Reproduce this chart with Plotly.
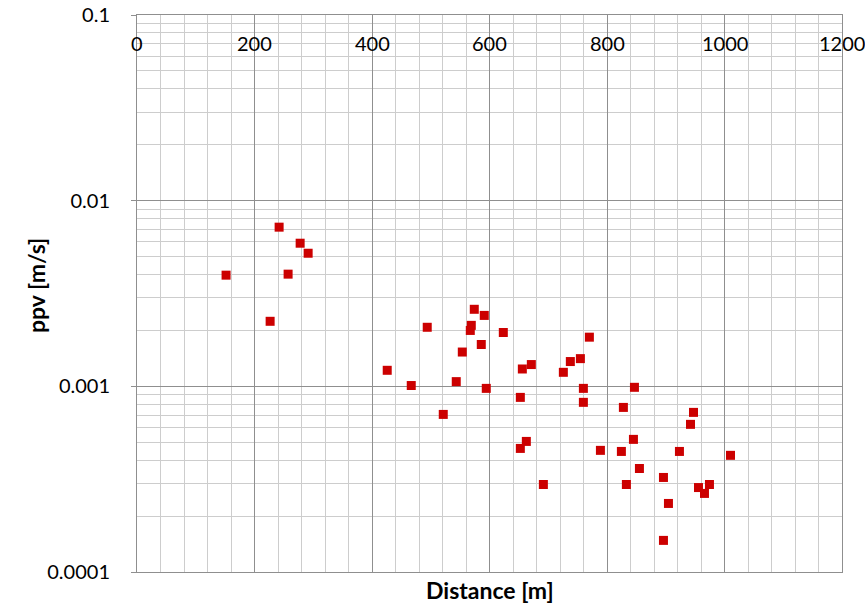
import plotly.graph_objects as go

distance_m = [151.6, 226.6, 241.9, 257.2, 277.7, 291.3, 425.9, 466.8, 494.0, 521.3,
              543.4, 553.7, 567.3, 569.0, 574.1, 586.0, 591.1, 594.5, 623.5, 652.5,
              652.5, 655.9, 662.7, 671.2, 691.7, 725.7, 737.6, 754.7, 759.8, 759.8,
              770.0, 788.8, 824.5, 827.9, 833.0, 845.0, 846.7, 855.2, 896.1, 896.1,
              904.6, 923.3, 942.1, 947.2, 955.7, 965.9, 974.4, 1010.2]
ppv_ms = [0.00397, 0.00224, 0.00720, 0.00402, 0.00590, 0.00521, 0.00122, 0.00101, 0.00208, 0.000706,
          0.00106, 0.00153, 0.00200, 0.00213, 0.00260, 0.00168, 0.00241, 0.000975, 0.00195, 0.000872,
          0.000463, 0.00124, 0.000505, 0.00131, 0.000296, 0.00119, 0.00136, 0.00141, 0.000975, 0.00082,
          0.00184, 0.000452, 0.000446, 0.00077, 0.000296, 0.000518, 0.000988, 0.000361, 0.000323, 0.000148,
          0.000234, 0.000446, 0.000624, 0.000724, 0.000285, 0.000265, 0.000296, 0.000425]

x_ticks = [0, 200, 400, 600, 800, 1000, 1200]
y_major = [0.0001, 0.001, 0.01, 0.1]
y_major_text = ["0.0001", "0.001", "0.01", "0.1"]
y_minor = [m * d for d in [0.0001, 0.001, 0.01] for m in range(2, 10)]

FONT = "Lato, 'Open Sans', sans-serif"
MAJOR = "#8f8f8f"
MINOR = "#cdcdcd"

W, H = 865, 605
L, R, T, B = 137, 842, 15, 572

fig = go.Figure()
fig.add_trace(go.Scatter(
    x=distance_m, y=ppv_ms, mode="markers",
    marker=dict(symbol="square", size=9, color="#CC0000", line=dict(width=0)),
    showlegend=False, cliponaxis=False,
))

fig.update_layout(
    width=W, height=H,
    margin=dict(l=L, r=W - R, t=T, b=H - B, autoexpand=False),
    paper_bgcolor="white", plot_bgcolor="white",
    font=dict(family=FONT, size=20, color="#000000"),
    xaxis=dict(
        range=[0, 1200], side="top", tickmode="array", tickvals=x_ticks,
        showticklabels=False, automargin=False,
        ticks="", showgrid=True, gridcolor=MAJOR, gridwidth=1,
        minor=dict(dtick=40, tick0=0, showgrid=True, gridcolor=MINOR, gridwidth=1),
        showline=True, linecolor=MAJOR, linewidth=1, mirror=True,
        zeroline=False, title=None,
    ),
    yaxis=dict(
        type="log", range=[-4, -1], automargin=False,
        tickmode="array", tickvals=y_major, ticktext=y_major_text,
        ticks="outside", ticklen=5, tickcolor=MAJOR, ticklabelstandoff=17,
        ticklabeloverflow="allow",
        showgrid=True, gridcolor=MAJOR, gridwidth=1,
        minor=dict(tickmode="array", tickvals=y_minor, showgrid=True, gridcolor=MINOR, gridwidth=1, ticks=""),
        showline=True, linecolor=MAJOR, linewidth=1, mirror=True,
        zeroline=False,
        tickfont=dict(size=20, family=FONT, color="#000000"),
        title=None,
    ),
)

for v in x_ticks:
    fig.add_annotation(text=str(v), x=v, xref="x", y=1, yref="paper",
                       yanchor="middle", xanchor="center", yshift=-(43 - T),
                       showarrow=False, font=dict(size=20, family=FONT, color="#000000"))

fig.add_annotation(text="<b>Distance [m]</b>", xref="paper", yref="paper",
                   x=(489.5 - L) / (R - L), y=-(590 - B) / (B - T),
                   xanchor="center", yanchor="middle", showarrow=False,
                   font=dict(size=23, family=FONT, color="#000000"))
fig.add_annotation(text="<b>ppv [m/s]</b>", xref="paper", yref="paper",
                   x=-(L - 36) / (R - L), y=(B - 285) / (B - T),
                   xanchor="center", yanchor="middle", textangle=-90, showarrow=False,
                   font=dict(size=23, family=FONT, color="#000000"))

fig.write_html("out.html",
               config={"displayModeBar": False},
               post_script="document.body.style.margin='0';document.body.style.overflow='hidden';")
